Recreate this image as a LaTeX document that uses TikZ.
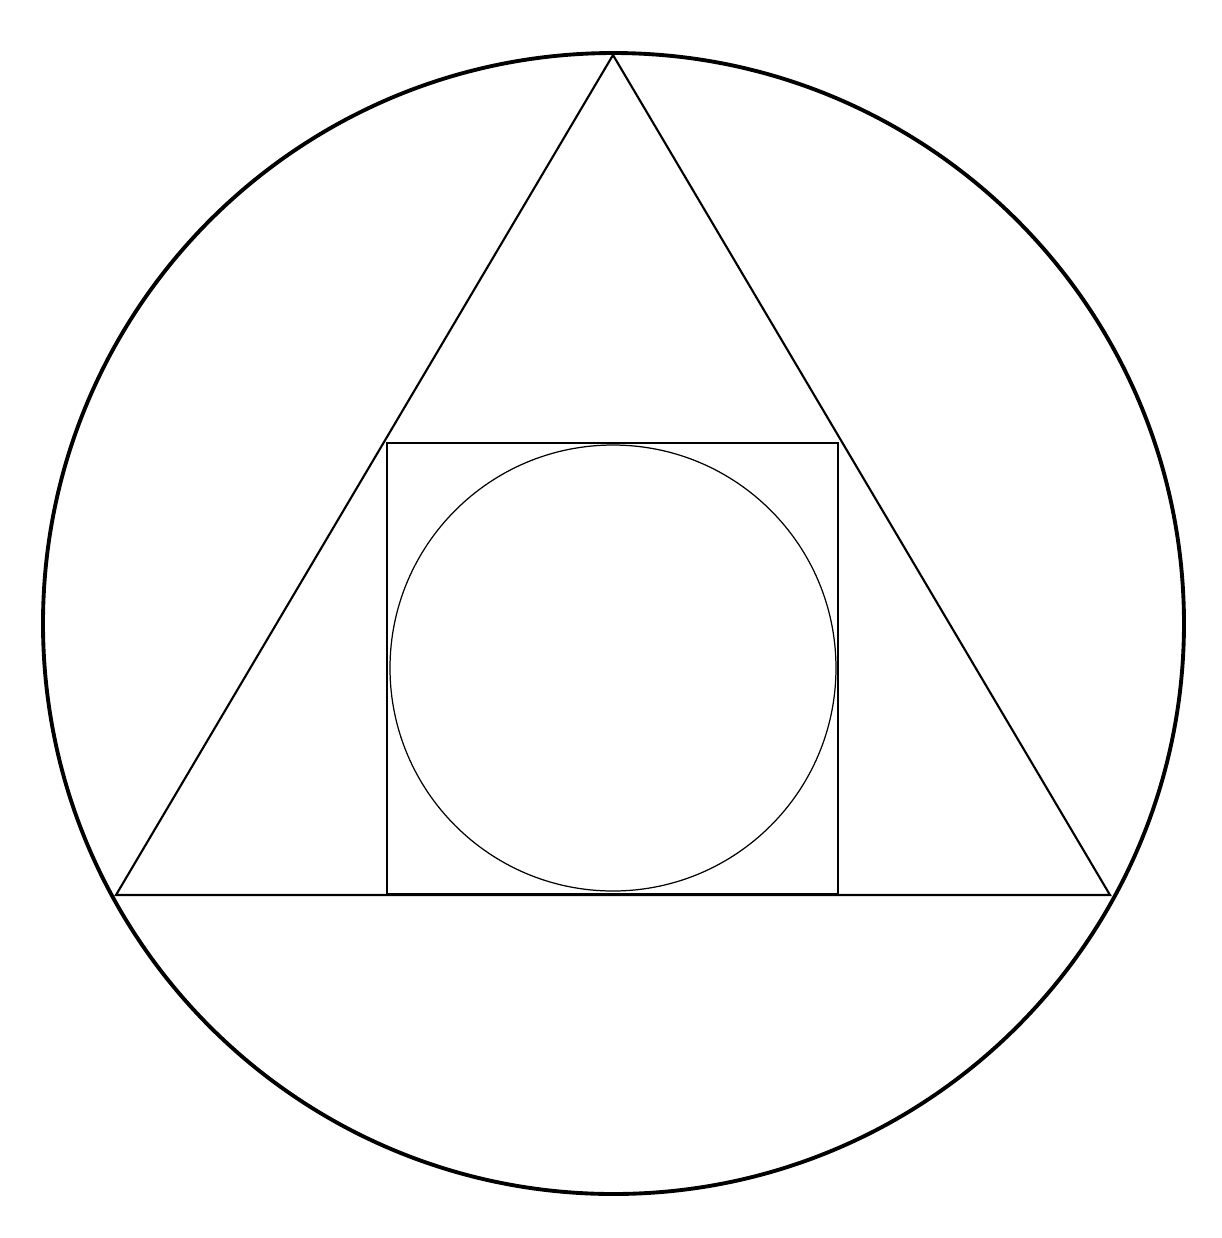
\documentclass[tikz,border=0pt]{standalone}
\begin{document}
\begin{tikzpicture}[x=0.01cm,y=-0.01cm,
  outer/.style={line width=1.1pt},
  tri/.style={line width=0.6pt,line join=miter},
  sq/.style={line width=0.45pt},
  inner/.style={line width=0.35pt}]
\useasboundingbox (0,0) rectangle (1222,1238);
\fill[white] (0,0) rectangle (1222,1238);
\coordinate (O) at (613.5,623.5);
\coordinate (A) at (613,55);
\coordinate (B) at (116,895);
\coordinate (C) at (1110,895);
\coordinate (S1) at (387,443);
\coordinate (S2) at (838,894);
\coordinate (I) at (613,668);
\draw[outer] (O) circle[radius=570.5];
\draw[tri] (A) -- (B) -- (C) -- cycle;
\draw[sq] (S1) rectangle (S2);
\draw[inner] (I) circle[radius=223];
\end{tikzpicture}
\end{document}
